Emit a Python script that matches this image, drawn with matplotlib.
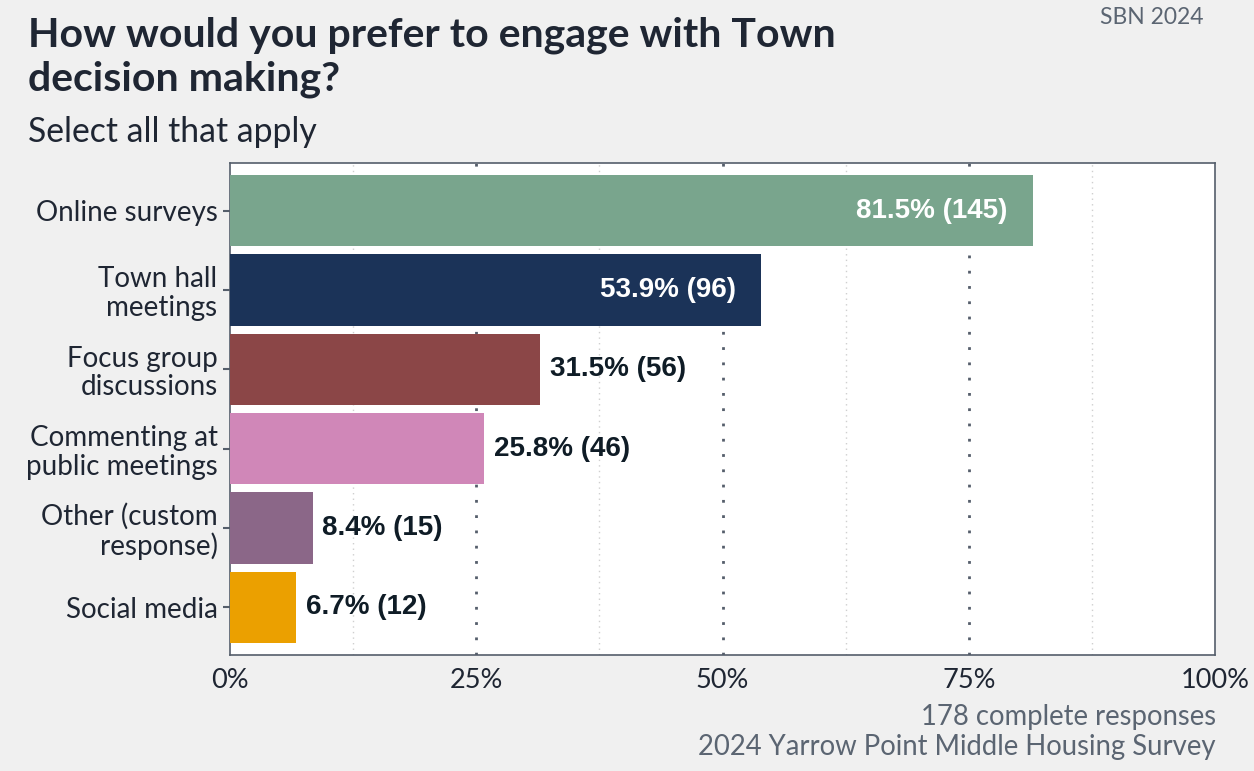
import numpy as np
import matplotlib.pyplot as plt
from matplotlib.ticker import FixedLocator, FuncFormatter

# Survey data
categories = ["Online surveys", "Town hall\nmeetings", "Focus group\ndiscussions",
              "Commenting at\npublic meetings", "Other (custom\nresponse)", "Social media"]
pct = [81.5, 53.9, 31.5, 25.8, 8.4, 6.7]
counts = [145, 96, 56, 46, 15, 12]
bar_colors = ["#79a58d", "#1b3358", "#8b4647", "#d087b8", "#8b6788", "#eba000"]

BG = "#f0f0f0"
TEXT = "#1f2633"
GREY = "#5b6572"

fig = plt.figure(figsize=(12.54, 7.71), dpi=100, facecolor=BG)
ax = fig.add_axes([230 / 1254, 1 - 655 / 771, (1215 - 230) / 1254, (655 - 163) / 771])
ax.set_facecolor("white")

y = np.arange(len(categories))
ax.barh(y, pct, height=0.9, color=bar_colors, zorder=3)

ax.set_xlim(0, 100)
ax.set_ylim(len(categories) - 0.4, -0.6)

# gridlines: dark dotted majors, light dotted minors
for xv in [25, 50, 75]:
    ax.axvline(xv, color="#555e6b", linestyle=(0, (1, 4.5)), linewidth=2, zorder=1)
for xv in [12.5, 37.5, 62.5, 87.5]:
    ax.axvline(xv, color="#cfcfcf", linestyle=(0, (1, 3)), linewidth=1, zorder=1)

ax.xaxis.set_major_locator(FixedLocator([0, 25, 50, 75, 100]))
ax.xaxis.set_major_formatter(FuncFormatter(lambda v, _: f"{v:.0f}%"))
ax.set_yticks(y)
ax.set_yticklabels(categories, fontsize=20, color=TEXT, family="Lato",
                   linespacing=1.12, ha="right")
for lab in ax.get_xticklabels():
    lab.set_fontsize(19.5)
    lab.set_color(TEXT)
    lab.set_family("Lato")
ax.tick_params(axis="x", length=0, pad=9)
ax.tick_params(axis="y", length=5, width=1.5, color="#555e6b", pad=4)

for s in ax.spines.values():
    s.set_color("#555e6b")
    s.set_linewidth(1.2)

# value labels
for i, (p, c) in enumerate(zip(pct, counts)):
    txt = f"{p:.1f}% ({c})"
    if p > 40:
        ax.annotate(txt, (p, i), xytext=(-18, 0), textcoords="offset points",
                    ha="right", va="center", color="white", fontsize=20,
                    fontweight="bold", family="Liberation Sans", zorder=4)
    else:
        ax.annotate(txt, (p, i), xytext=(7, 0), textcoords="offset points",
                    ha="left", va="center", color="#0f1c26", fontsize=20,
                    fontweight="bold", family="Liberation Sans", zorder=4)

# titles and captions
fig.text(28 / 1254, 1 - 16 / 771, "How would you prefer to engage with Town\ndecision making?",
         ha="left", va="top", fontsize=29.5, fontweight="bold", color=TEXT,
         family="Lato", linespacing=1.25)
fig.text(28 / 1254, 1 - 116 / 771, "Select all that apply", ha="left", va="top",
         fontsize=24.3, color=TEXT, family="Lato")
fig.text(1204 / 1254, 1 - 7 / 771, "SBN 2024", ha="right", va="top",
         fontsize=16.5, color=GREY, family="Lato")
fig.text(1216 / 1254, 1 - 704 / 771, "178 complete responses\n2024 Yarrow Point Middle Housing Survey",
         ha="right", va="top", fontsize=19.8, color=GREY, family="Lato",
         linespacing=1.17, multialignment="right")

fig.savefig("out.png", dpi=100, facecolor=BG)
